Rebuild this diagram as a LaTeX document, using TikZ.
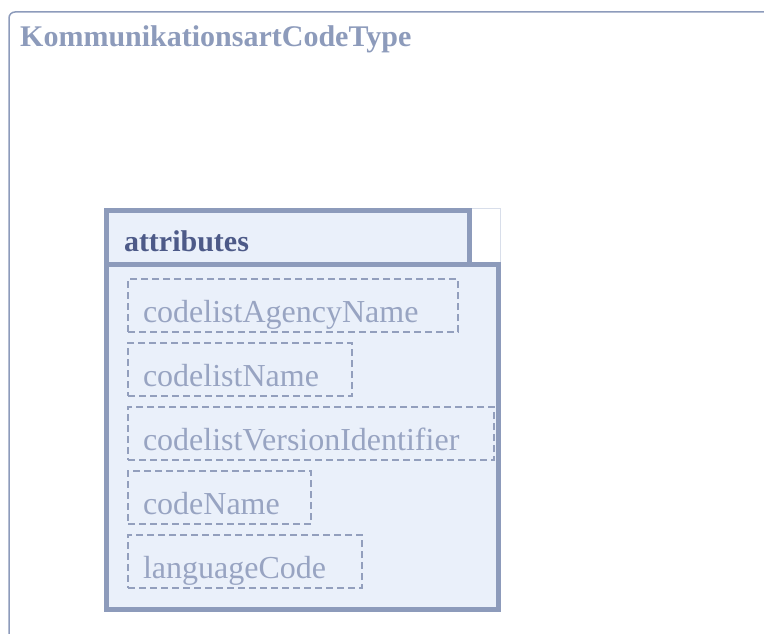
\documentclass[tikz,border=0pt]{standalone}
\usepackage{fontspec}
\setmainfont{Liberation Serif}
\usetikzlibrary{positioning}

\definecolor{frameblue}{HTML}{8D9BBB}
\definecolor{fillblue}{HTML}{EAF0FA}
\definecolor{headtext}{HTML}{4D5A88}
\definecolor{itemtext}{HTML}{98A4C2}
\definecolor{dashblue}{HTML}{939FBD}
\definecolor{faintline}{HTML}{D8DEEA}

\begin{document}
\begin{tikzpicture}[x=1pt,y=-1pt,
  titlefont/.style={font=\fontsize{30}{34}\selectfont\bfseries},
  itemfont/.style={font=\fontsize{32}{38}\selectfont},
  group/.style={draw=frameblue,line width=5pt,fill=fillblue,rectangle,inner sep=0pt,outer sep=0pt},
  item/.style={draw=dashblue,dashed,dash pattern=on 7pt off 4pt,line width=2.5pt,
    itemfont,text=itemtext,align=left,inner xsep=15pt,inner ysep=3pt,outer sep=0pt,
    text height=40pt,text depth=7pt}]
  \useasboundingbox (0,0) rectangle (764,634);
  % outer frame, cut off at right and bottom
  \draw[frameblue,line width=1.5pt,rounded corners=6pt] (9,634) -- (9,12) -- (764,12);
  \node[titlefont,text=frameblue,anchor=base west,inner sep=0pt] (title) at (20,47) {KommunikationsartCodeType};
  % attributes group
  \draw[faintline,line width=1pt] (472,208.5) -- (500.5,208.5) -- (500.5,262);
  \node[group,anchor=north west,minimum width=392pt,minimum height=345pt] (attrbody) at (106.5,264.5) {};
  \node[group,anchor=north west,titlefont,text=headtext,align=left,text width=328pt,
    inner xsep=17.5pt,text height=40.5pt,text depth=13.5pt] (attrhead) at (106.5,210.5) {attributes};
  \node[item,text width=300pt,anchor=north west] (a1) at (128,279) {codelistAgencyName};
  \node[item,text width=194pt,below right=11pt and 0pt of a1.south west] (a2) {codelistName};
  \node[item,text width=336pt,below right=11pt and 0pt of a2.south west] (a3) {codelistVersionIdentifier};
  \node[item,text width=153pt,below right=11pt and 0pt of a3.south west] (a4) {codeName};
  \node[item,text width=204pt,below right=11pt and 0pt of a4.south west] (a5) {languageCode};
\end{tikzpicture}
\end{document}
